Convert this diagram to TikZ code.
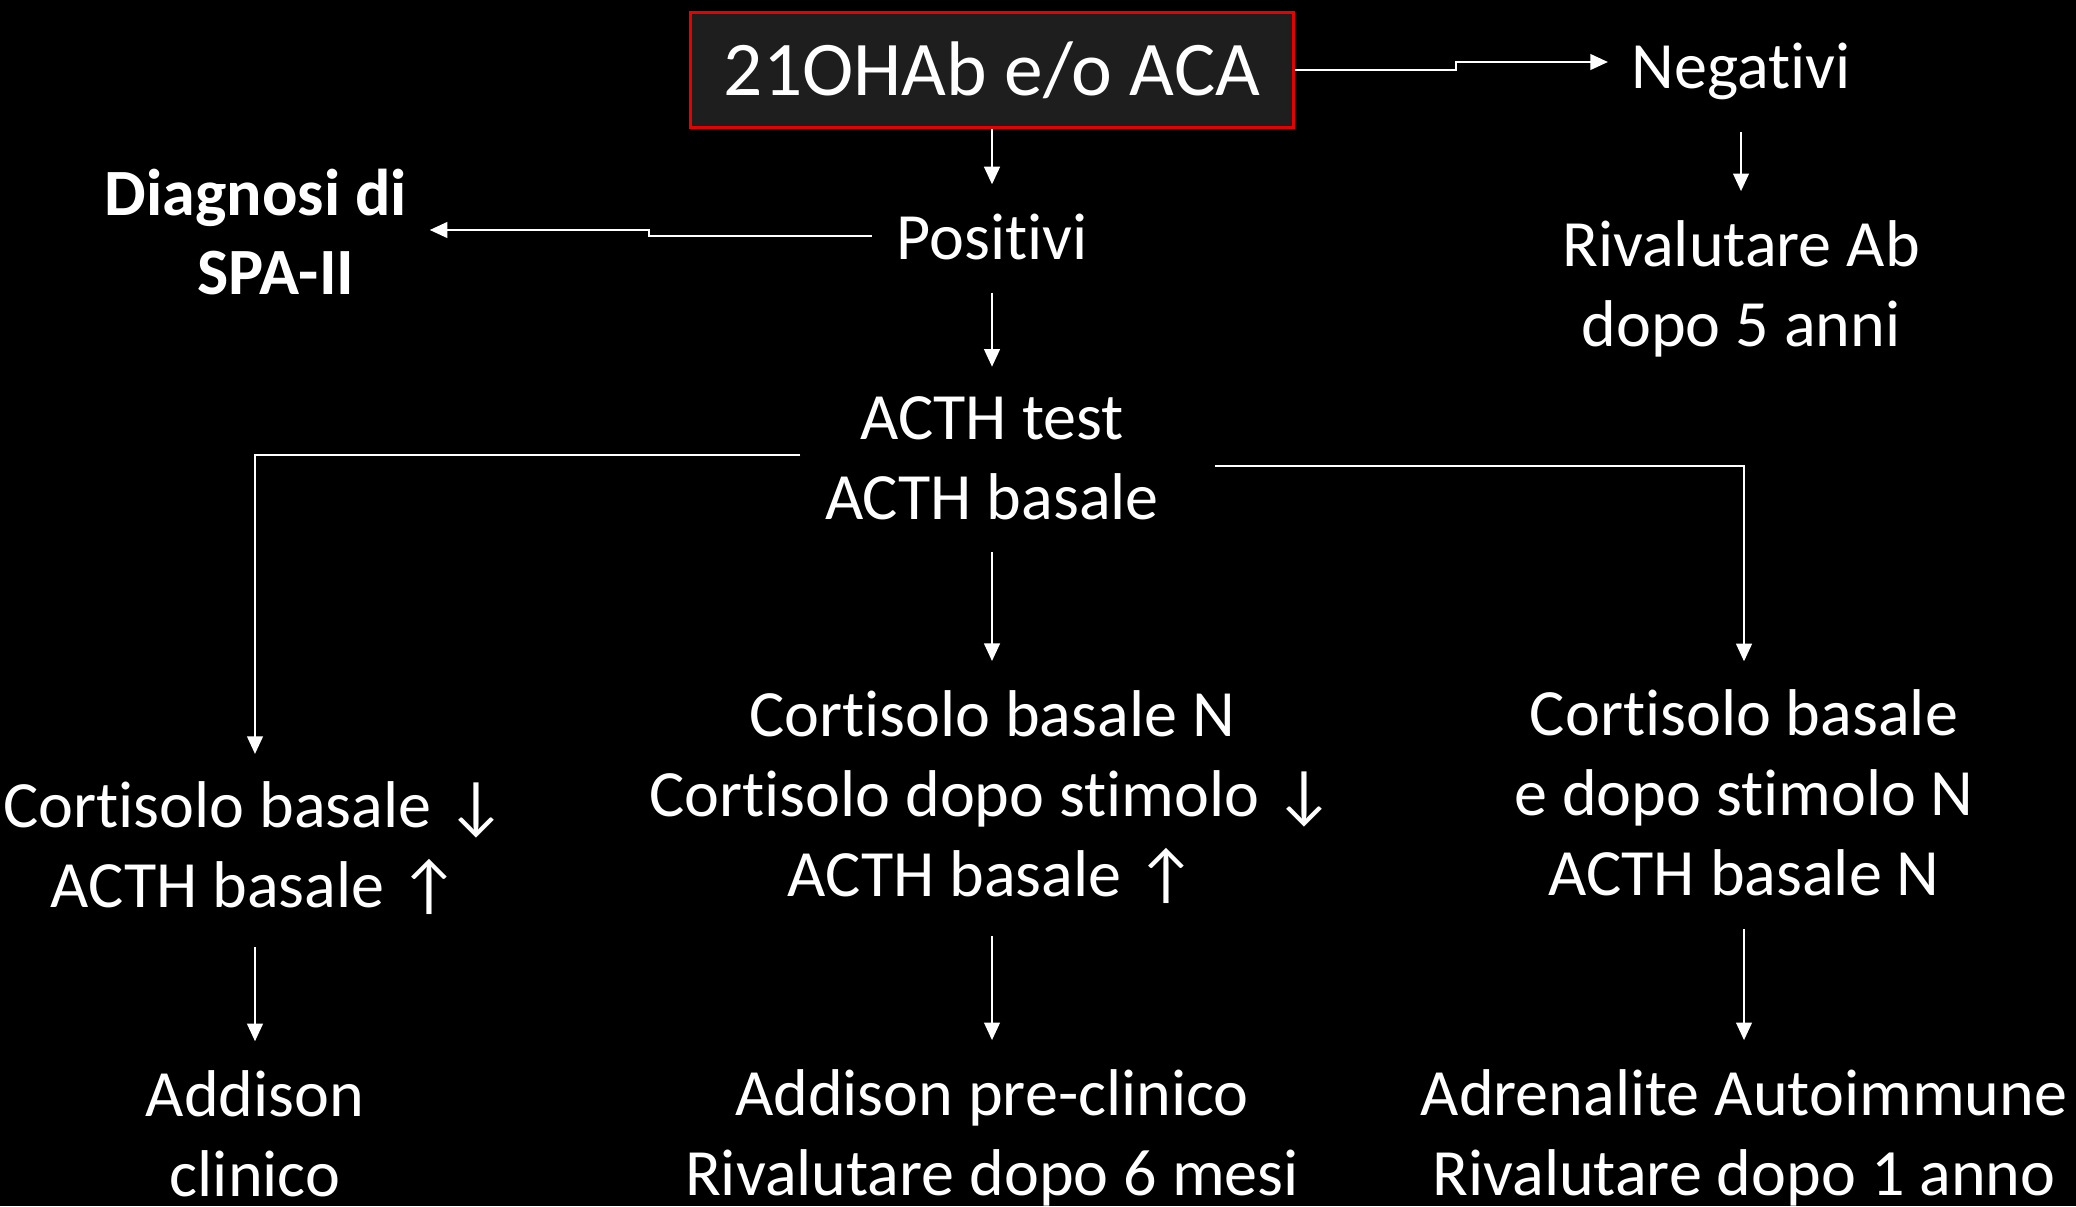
\documentclass[tikz,border=0pt]{standalone}
\usepackage{fontspec}
\setmainfont{Carlito}[Ligatures=NoCommon]
\usetikzlibrary{arrows.meta}

\tikzset{
  lbl/.style={text=white, align=center, inner sep=0pt, font=\fontsize{18.8}{22.7}\selectfont},
  lblb/.style={lbl, font=\fontsize{18.8}{22.7}\selectfont\bfseries},
  box/.style={lbl, draw={rgb,255:red,230;green,0;blue,0}, line width=0.8pt,
    fill={rgb,255:red,30;green,30;blue,30}, minimum width=6.03cm, minimum height=1.15cm,
    font=\fontsize{22}{26}\selectfont},
  arr/.style={draw=white, line width=0.5pt, -{Triangle[length=5pt,width=4.5pt]}},
  down/.style={arr, shorten <=0.32cm, shorten >=0.29cm}
}

\begin{document}
\begin{tikzpicture}[x=0.01cm,y=-0.01cm]
\useasboundingbox (0,0) rectangle (2076,1206);
\fill[black] (0,0) rectangle (2076,1206);
\node[box] (top) at (992,70) {21OHAb e/o ACA};
\node[lbl] (neg) at (1741,71) {Negativi};
\node[lbl] (rivab) at (1741,289) {Rivalutare Ab\\dopo 5 anni};
\node[lbl] (pos) at (992,237) {Positivi};
\node[lblb] (spa) at (256,232) {Diagnosi di\\\hspace*{0.4cm}SPA-II};
\node[lbl] (acth) at (992,458) {ACTH test\\ACTH basale};
\node[lbl] (cortl) at (255,848) {Cortisolo basale ↓\\ACTH basale ↑};
\node[lbl] (cortm) at (992,797) {Cortisolo basale N\\Cortisolo dopo stimolo ↓\\ACTH basale ↑};
\node[lbl] (cortr) at (1744,793) {Cortisolo basale\\e dopo stimolo N\\ACTH basale N};
\node[lbl] (addis) at (255,1134) {Addison\\clinico};
\node[lbl] (preadd) at (992,1138) {Addison pre-clinico\\Rivalutare dopo 6 mesi};
\node[lbl] (adren) at (1744,1138) {Adrenalite Autoimmune\\Rivalutare dopo 1 anno};
\draw[arr] (top.east) -- ++(161,0) |- ([shift={(-23,-9)}]neg.west);
\draw[down] (neg) -- (rivab);
\draw[arr, shorten >=0.29cm] (top) -- (pos);
\draw[arr] ([shift={(-24,-1)}]pos.west) -- ++(-223,0) |- ([shift={(22,-2)}]spa.east);
\draw[down] (pos) -- (acth);
\draw[arr, shorten >=0.27cm] ([shift={(-24,-3)}]acth.west) -| (cortl.north);
\draw[arr, shorten >=0.28cm] ([shift={(55,8)}]acth.east) -| (cortr.north);
\draw[down] (acth) -- (cortm);
\draw[down] (cortl) -- (addis);
\draw[down] (cortm) -- (preadd);
\draw[down] (cortr) -- (adren);
\end{tikzpicture}
\end{document}
